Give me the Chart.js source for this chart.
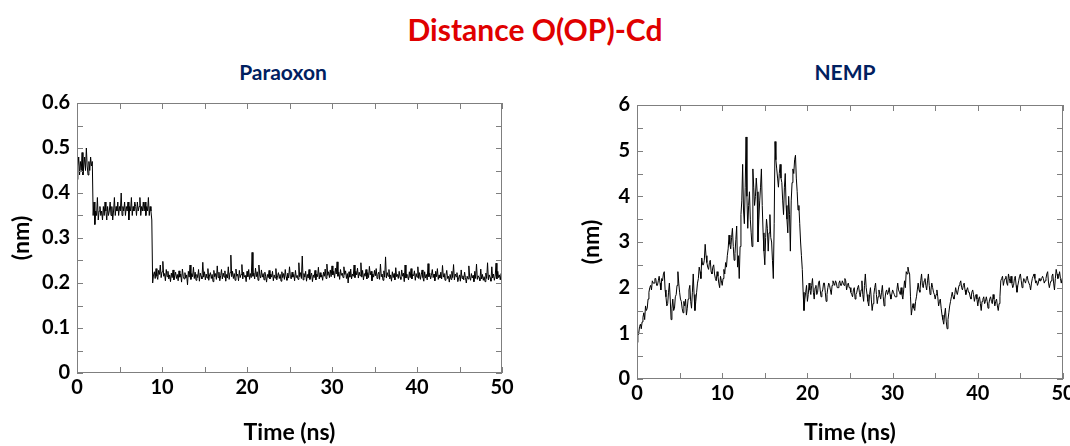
<!DOCTYPE html>
<html>
<head>
<meta charset="utf-8">
<script src="https://cdn.jsdelivr.net/npm/chart.js@4.4.1/dist/chart.umd.min.js"></script>
<style>
  html, body { margin: 0; padding: 0; background: #fff; }
  body { width: 1070px; height: 446px; position: relative; overflow: hidden; font-family: Lato, sans-serif; }
  .main-title { position: absolute; left: 0; width: 1070px; top: 11px; text-align: center; color: #e00000; font-weight: bold; font-size: 30px; }
  .sub-title { position: absolute; top: 59px; color: #002060; font-weight: bold; font-size: 21px; text-align: center; width: 200px; }
  canvas { position: absolute; }
</style>
</head>
<body>
<div class="main-title">Distance O(OP)-Cd</div>
<div class="sub-title" style="left:183px">Paraoxon</div>
<div class="sub-title" style="left:745px">NEMP</div>
<canvas id="paraoxon-chart" width="540" height="356" style="left:0;top:90px;width:540px;height:356px"></canvas>
<canvas id="nemp-chart" width="500" height="356" style="left:570px;top:90px;width:500px;height:356px"></canvas>
<script>
// sampling of both trajectories (ns)
const timeStep = 0.1;

// O(OP)-Cd distance, Paraoxon (nm), one value every 0.1 ns from 0 to 50 ns
const paraoxonDist = [
  0.43, 0.46, 0.48, 0.44, 0.47, 0.45, 0.49, 0.44, 0.46, 0.48,
  0.45, 0.50, 0.46, 0.44, 0.47, 0.45, 0.48, 0.46, 0.47,
  0.35, 0.38, 0.33, 0.36, 0.35, 0.39, 0.34, 0.36, 0.37, 0.35,
  0.36, 0.34, 0.37, 0.35, 0.38, 0.36, 0.34, 0.37, 0.35, 0.36,
  0.38, 0.35, 0.37, 0.34, 0.36, 0.39, 0.35, 0.37, 0.36, 0.38,
  0.35, 0.37, 0.36, 0.40, 0.35, 0.37, 0.36, 0.38, 0.35, 0.37,
  0.36, 0.38, 0.34, 0.37, 0.36, 0.39, 0.35, 0.37, 0.36, 0.38,
  0.37, 0.35, 0.38, 0.36, 0.37, 0.39, 0.35, 0.37, 0.36, 0.38,
  0.36, 0.38, 0.35, 0.37, 0.36, 0.39, 0.35, 0.37, 0.36, 0.34,
  0.200, 0.218, 0.225, 0.210, 0.232, 0.215, 0.208, 0.228, 0.219, 0.240,
  0.212, 0.225, 0.248, 0.215, 0.221, 0.205, 0.230, 0.214, 0.226, 0.209,
  0.218, 0.203, 0.222, 0.212, 0.229, 0.207, 0.216, 0.224, 0.210, 0.219,
  0.205, 0.227, 0.213, 0.220, 0.202, 0.231, 0.215, 0.209, 0.223, 0.211,
  0.218, 0.196, 0.226, 0.213, 0.240, 0.208, 0.221, 0.214, 0.235, 0.210,
  0.224, 0.206, 0.219, 0.212, 0.230, 0.204, 0.222, 0.215, 0.209, 0.246,
  0.213, 0.225, 0.207, 0.220, 0.211, 0.232, 0.206, 0.218, 0.223, 0.210,
  0.219, 0.203, 0.228, 0.214, 0.221, 0.208, 0.238, 0.212, 0.224, 0.205,
  0.216, 0.230, 0.209, 0.222, 0.213, 0.227, 0.204, 0.219, 0.211, 0.236,
  0.208, 0.223, 0.262, 0.214, 0.226, 0.210, 0.221, 0.206, 0.231, 0.215,
  0.220, 0.205, 0.228, 0.212, 0.219, 0.241, 0.209, 0.224, 0.213, 0.217,
  0.203, 0.226, 0.214, 0.230, 0.208, 0.221, 0.212, 0.268, 0.215, 0.222,
  0.209, 0.233, 0.214, 0.225, 0.206, 0.240, 0.218, 0.211, 0.229, 0.213,
  0.221, 0.207, 0.224, 0.215, 0.202, 0.219, 0.212, 0.228, 0.209, 0.220,
  0.213, 0.226, 0.205, 0.218, 0.211, 0.232, 0.207, 0.216, 0.223, 0.210,
  0.219, 0.204, 0.225, 0.212, 0.221, 0.208, 0.230, 0.214, 0.206, 0.222,
  0.211, 0.236, 0.215, 0.209, 0.224, 0.213, 0.219, 0.205, 0.228, 0.212,
  0.217, 0.208, 0.245, 0.214, 0.223, 0.210, 0.260, 0.207, 0.221, 0.213,
  0.226, 0.204, 0.219, 0.211, 0.230, 0.208, 0.216, 0.222, 0.203, 0.218,
  0.212, 0.228, 0.207, 0.220, 0.214, 0.235, 0.209, 0.223, 0.213, 0.218,
  0.206, 0.224, 0.215, 0.231, 0.210, 0.242, 0.217, 0.225, 0.212, 0.229,
  0.214, 0.238, 0.218, 0.226, 0.211, 0.233, 0.220, 0.247, 0.215, 0.224,
  0.208, 0.230, 0.217, 0.222, 0.212, 0.236, 0.219, 0.227, 0.210, 0.221,
  0.200, 0.225, 0.213, 0.231, 0.209, 0.220, 0.215, 0.240, 0.212, 0.226,
  0.218, 0.233, 0.211, 0.224, 0.216, 0.245, 0.213, 0.228, 0.207, 0.221,
  0.215, 0.230, 0.209, 0.223, 0.212, 0.237, 0.218, 0.226, 0.205, 0.220,
  0.213, 0.228, 0.216, 0.232, 0.210, 0.219, 0.224, 0.208, 0.242, 0.214,
  0.220, 0.206, 0.227, 0.213, 0.258, 0.211, 0.223, 0.215, 0.230, 0.209,
  0.218, 0.204, 0.225, 0.212, 0.221, 0.207, 0.234, 0.214, 0.219, 0.210,
  0.226, 0.213, 0.208, 0.229, 0.215, 0.222, 0.203, 0.240, 0.211, 0.220,
  0.214, 0.207, 0.225, 0.212, 0.232, 0.209, 0.219, 0.216, 0.227, 0.206,
  0.221, 0.213, 0.236, 0.210, 0.223, 0.208, 0.218, 0.229, 0.212, 0.204,
  0.225, 0.211, 0.219, 0.207, 0.243, 0.214, 0.222, 0.209, 0.217, 0.230,
  0.212, 0.220, 0.205, 0.226, 0.214, 0.232, 0.208, 0.218, 0.211, 0.224,
  0.209, 0.239, 0.213, 0.221, 0.206, 0.217, 0.228, 0.210, 0.215, 0.202,
  0.219, 0.208, 0.226, 0.212, 0.241, 0.207, 0.220, 0.214, 0.223, 0.203,
  0.211, 0.218, 0.204, 0.229, 0.210, 0.216, 0.207, 0.224, 0.212, 0.200,
  0.215, 0.209, 0.238, 0.213, 0.206, 0.221, 0.211, 0.217, 0.203, 0.226,
  0.210, 0.242, 0.208, 0.216, 0.212, 0.205, 0.231, 0.209, 0.219, 0.206,
  0.214, 0.203, 0.222, 0.210, 0.245, 0.207, 0.218, 0.212, 0.204, 0.236,
  0.211, 0.220, 0.206, 0.215, 0.244, 0.209, 0.226, 0.212, 0.218, 0.207,
  0.221, 0.212
];

// O(OP)-Cd distance, NEMP (nm), same sampling
const nempDist = [
  0.80, 0.95, 1.00, 1.15, 1.20, 1.10, 1.25, 1.35, 1.45, 1.30,
  1.60, 1.50, 1.55, 1.75, 1.90, 2.00, 2.05, 1.95, 2.15, 2.10,
  2.10, 2.20, 2.20, 2.05, 2.05, 2.15, 2.25, 2.10, 1.95, 2.20,
  2.15, 2.30, 2.35, 1.95, 1.80, 1.60, 1.65, 1.90, 2.10, 1.75,
  1.30, 1.55, 1.75, 1.50, 1.55, 1.80, 1.85, 2.05, 2.35, 2.10,
  1.90, 1.75, 1.70, 1.55, 1.45, 1.70, 1.60, 1.75, 1.40, 1.55,
  1.75, 1.95, 2.05, 1.70, 1.55, 1.90, 2.30, 1.85, 1.50, 1.70,
  1.90, 2.10, 2.20, 2.45, 2.35, 2.20, 2.65, 2.50, 2.50, 2.60,
  2.95, 2.70, 2.55, 2.45, 2.40, 2.55, 2.60, 2.35, 2.30, 2.45,
  2.50, 2.30, 2.20, 2.15, 2.35, 2.25, 2.10, 2.00, 2.25, 2.15,
  2.05, 2.20, 2.40, 2.30, 2.55, 2.45, 2.70, 2.85, 3.15, 2.95,
  2.85, 3.10, 3.30, 2.90, 2.60, 2.75, 3.05, 3.35, 2.45, 2.70,
  2.20, 2.90, 3.60, 3.90, 4.70, 3.70, 3.40, 4.20, 5.30, 4.00,
  3.30, 3.80, 4.10, 3.50, 3.20, 2.90, 4.60, 4.20, 3.80, 4.00,
  4.40, 4.10, 3.00, 3.50, 3.90, 4.20, 4.60, 3.80, 3.20, 2.80,
  2.50, 3.10, 3.50, 3.30, 2.80, 3.20, 3.60, 3.10, 3.00, 2.60,
  2.20, 3.40, 5.20, 4.80, 4.60, 4.40, 4.20, 4.50, 4.70, 4.40,
  4.30, 3.90, 3.60, 4.20, 4.50, 3.80, 3.50, 3.20, 4.00, 3.60,
  2.80, 3.90, 4.30, 4.60, 4.50, 4.80, 4.90, 4.40, 4.10, 3.70,
  3.80, 3.40, 3.00, 2.70, 2.40, 1.90, 1.50, 1.75, 1.90, 2.05,
  1.70, 1.85, 2.10, 1.95, 1.85, 2.05, 2.20, 1.90, 1.75, 2.00,
  2.05, 1.85, 1.90, 2.10, 2.15, 1.95, 1.80, 1.90, 1.95, 2.10,
  2.10, 1.90, 1.70, 1.85, 2.00, 2.10, 2.05, 1.95, 1.85, 2.05,
  2.15, 2.10, 2.05, 2.15, 2.10, 2.00, 2.00, 2.10, 2.15, 2.05,
  2.05, 2.15, 2.10, 2.05, 2.20, 2.15, 1.95, 2.05, 2.10, 2.00,
  2.00, 1.90, 1.85, 1.80, 1.95, 2.00, 1.75, 1.85, 1.90, 2.00,
  2.05, 1.90, 1.80, 1.95, 2.15, 1.85, 1.70, 2.05, 2.30, 2.00,
  1.85, 1.70, 1.60, 1.85, 2.00, 1.75, 1.50, 1.65, 1.85, 2.00,
  2.10, 1.85, 1.65, 1.80, 1.95, 1.85, 1.75, 1.90, 2.05, 1.80,
  1.60, 1.75, 1.90, 1.95, 1.85, 1.90, 2.00, 1.85, 1.75, 1.85,
  1.95, 1.90, 1.85, 1.80, 1.80, 1.95, 2.10, 1.95, 1.90, 1.85,
  2.00, 1.85, 1.75, 1.95, 2.15, 2.00, 2.35, 2.30, 2.45, 2.35,
  2.30, 1.80, 1.40, 1.55, 1.65, 1.55, 1.50, 1.70, 1.80, 1.95,
  2.10, 1.95, 1.90, 2.15, 2.30, 2.05, 2.00, 2.15, 2.20, 2.05,
  1.95, 2.15, 2.30, 2.05, 1.85, 1.95, 2.10, 2.00, 1.90, 1.85,
  1.75, 1.85, 1.95, 1.80, 1.60, 1.70, 1.75, 1.55, 1.40, 1.30,
  1.20, 1.40, 1.55, 1.25, 1.10, 1.30, 1.45, 1.60, 1.70, 1.80,
  1.90, 1.80, 1.75, 1.85, 2.00, 1.90, 1.85, 1.95, 2.05, 2.10,
  2.15, 2.00, 1.95, 2.05, 2.10, 1.95, 1.85, 1.95, 2.00, 1.90,
  1.90, 1.80, 1.75, 1.90, 1.95, 1.85, 1.70, 1.80, 1.85, 1.75,
  1.60, 1.75, 1.80, 1.65, 1.50, 1.70, 1.75, 1.80, 1.65, 1.70,
  1.80, 1.70, 1.55, 1.65, 1.75, 1.80, 1.70, 1.65, 1.85, 1.75,
  1.60, 1.70, 1.75, 1.60, 1.50, 1.65, 1.80, 2.15, 2.20, 2.25,
  2.05, 2.15, 2.20, 2.25, 2.10, 2.05, 2.30, 2.20, 2.10, 2.25,
  2.10, 2.00, 2.05, 2.20, 2.25, 2.05, 1.90, 2.05, 2.15, 2.25,
  2.30, 2.15, 2.00, 2.10, 2.20, 2.15, 2.10, 2.20, 2.25, 2.15,
  2.15, 2.05, 1.95, 2.10, 2.20, 2.25, 2.30, 2.20, 2.10, 2.15,
  2.05, 2.10, 2.20, 2.15, 2.15, 2.20, 2.25, 2.20, 2.10, 2.15,
  2.20, 2.30, 2.35, 2.10, 2.00, 2.10, 2.15, 2.25, 2.30, 2.10,
  1.95, 2.20, 2.40, 2.30, 2.20, 2.25, 2.35, 2.20, 2.10, 2.20,
  2.25
];

const xTickStep = 10;
const xMinorStep = 5;

const tickFont = { family: 'Lato', size: 20, weight: 'bold' };
const titleFont = { family: 'Lato', size: 23, weight: 'bold' };

// draws the grey frame with inward major/minor ticks on all four sides
const frameTicks = {
  id: 'frameTicks',
  afterDatasetsDraw(chart, args, opts) {
    const { ctx, chartArea: a, scales: { x, y } } = chart;
    const len = 6;
    ctx.save();
    ctx.strokeStyle = '#7f7f7f';
    ctx.lineWidth = 1;
    ctx.strokeRect(Math.round(a.left) + 0.5, Math.round(a.top) + 0.5, Math.round(a.width) - 1, Math.round(a.height) - 1);
    ctx.beginPath();
    for (let v = x.min; v <= x.max + 1e-9; v += xMinorStep) {
      const px = Math.round(x.getPixelForValue(v)) + 0.5;
      ctx.moveTo(px, a.bottom); ctx.lineTo(px, a.bottom - len);
      ctx.moveTo(px, a.top); ctx.lineTo(px, a.top + len);
    }
    for (let v = y.min; v <= y.max + 1e-9; v += opts.yMinor) {
      const py = Math.round(y.getPixelForValue(v)) + 0.5;
      ctx.moveTo(a.left, py); ctx.lineTo(a.left + len, py);
      ctx.moveTo(a.right, py); ctx.lineTo(a.right - len, py);
    }
    ctx.stroke();
    ctx.restore();
  }
};

function buildChart(canvasId, values, yMax, yStep, yDecimals, axisSizes) {
  const points = values.map((v, i) => ({ x: i * timeStep, y: v }));
  const ctx = document.getElementById(canvasId).getContext('2d');
  return new Chart(ctx, {
    type: 'line',
    data: {
      datasets: [{
        data: points,
        borderColor: '#000',
        borderWidth: 1,
        pointRadius: 0,
        tension: 0,
      }],
    },
    options: {
      responsive: false,
      animation: false,
      layout: { padding: { top: axisSizes.top, right: axisSizes.right, left: 0, bottom: 0 } },
      plugins: {
        legend: { display: false },
        tooltip: { enabled: false },
        frameTicks: { yMinor: yStep / 2 },
      },
      scales: {
        x: {
          type: 'linear',
          min: 0,
          max: 50,
          grid: { display: false, drawTicks: false },
          border: { display: false },
          ticks: { stepSize: xTickStep, color: '#000', font: tickFont, padding: 3, maxRotation: 0 },
          title: { display: true, text: 'Time (ns)', color: '#000', font: titleFont, padding: { top: 0, bottom: 0 } },
          afterFit(scale) {
            scale.height = axisSizes.xHeight;
            scale.paddingLeft = 0;
            scale.paddingRight = 0;
          },
        },
        y: {
          min: 0,
          max: yMax,
          grid: { display: false, drawTicks: false },
          border: { display: false },
          ticks: {
            stepSize: yStep,
            color: '#000',
            font: tickFont,
            padding: 7,
            callback: (v) => (v === 0 ? '0' : Number(v).toFixed(yDecimals)),
          },
          title: { display: true, text: '(nm)', color: '#000', font: titleFont, padding: { top: 8, bottom: 0 } },
          afterFit(scale) {
            scale.width = axisSizes.yWidth;
            scale.paddingTop = 0;
            scale.paddingBottom = 0;
          },
        },
      },
    },
    plugins: [frameTicks],
  });
}

buildChart('paraoxon-chart', paraoxonDist, 0.6, 0.1, 1, { top: 13, right: 38, xHeight: 73, yWidth: 77 });
buildChart('nemp-chart', nempDist, 6, 1, 0, { top: 15, right: 7, xHeight: 67, yWidth: 67 });
</script>
</body>
</html>
